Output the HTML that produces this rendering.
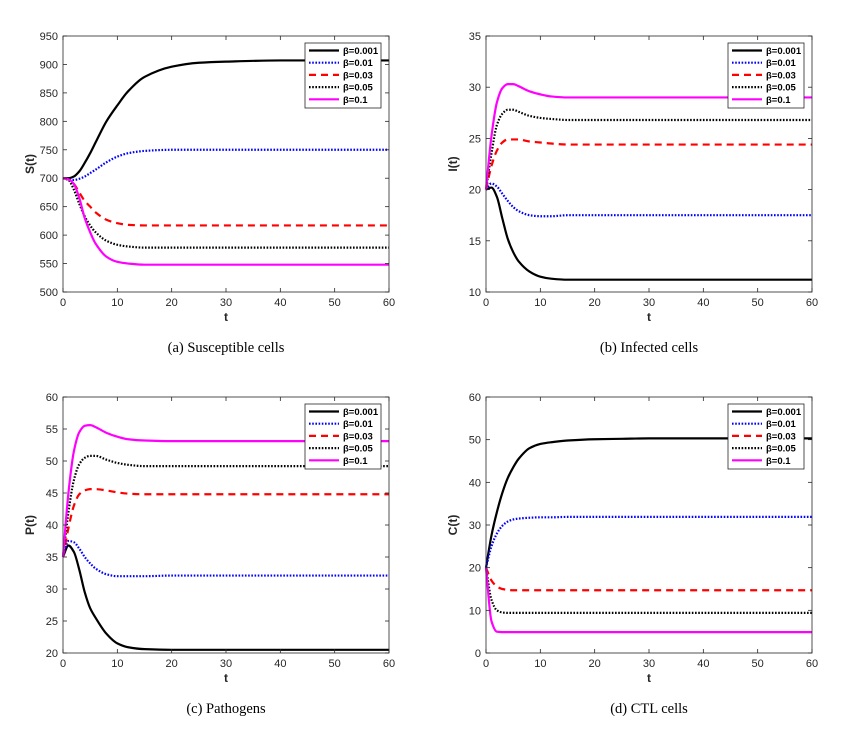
<!DOCTYPE html>
<html><head><meta charset="utf-8">
<style>
body{margin:0;background:#fff;}
svg{display:block;font-family:"Liberation Sans",sans-serif;}
.cap{font-family:"Liberation Serif",serif;font-size:14.5px;}
</style></head>
<body>
<svg id="chart" width="862" height="735" viewBox="0 0 862 735"></svg>
<script>
const T = [0,1,2,3,4,5,6,8,10,12,15,20,25,30,40,60];
const betaLabels = ["\u03B2=0.001","\u03B2=0.01","\u03B2=0.03","\u03B2=0.05","\u03B2=0.1"];
const sB001 = [700,700,703,712,727,744,763,800,828,853,878,896,903,905,907,907];
const sB01  = [700,698,697,699,703,709,715,728,738,744,748,750,750,750,750,750];
const sB03  = [700,698,690,675,660,650,640,627,621,618,617,617,617,617,617,617];
const sB05  = [700,697,680,655,633,617,605,590,583,580,578,578,578,578,578,578];
const sB1   = [700,698,690,665,630,605,585,562,553,550,548,548,548,548,548,548];
const iB001 = [20,20.2,19.3,17.2,15.2,13.9,13.0,12.0,11.5,11.3,11.2,11.2,11.2,11.2,11.2,11.2];
const iB01  = [20,20.6,20.3,19.6,18.9,18.3,17.9,17.5,17.4,17.4,17.5,17.5,17.5,17.5,17.5,17.5];
const iB03  = [20,22.3,23.8,24.6,24.9,24.9,24.9,24.7,24.6,24.5,24.4,24.4,24.4,24.4,24.4,24.4];
const iB05  = [20,23.5,26.3,27.4,27.8,27.8,27.6,27.2,27.0,26.9,26.8,26.8,26.8,26.8,26.8,26.8];
const iB1   = [20,25.2,28.5,29.9,30.3,30.3,30.1,29.6,29.3,29.1,29.0,29.0,29.0,29.0,29.0,29.0];
const pB001 = [35,36.8,35.8,33.0,29.5,27.0,25.5,23.0,21.5,20.9,20.6,20.5,20.5,20.5,20.5,20.5];
const pB01  = [35,37.5,37.3,36.3,35.0,34.0,33.2,32.3,32.0,32.0,32.0,32.1,32.1,32.1,32.1,32.1];
const pB03  = [35,39.5,43.0,44.8,45.4,45.6,45.6,45.4,45.1,44.9,44.8,44.8,44.8,44.8,44.8,44.8];
const pB05  = [35,42.0,47.0,49.5,50.5,50.8,50.8,50.2,49.7,49.4,49.2,49.2,49.2,49.2,49.2,49.2];
const pB1   = [35,45.0,51.5,54.5,55.5,55.6,55.3,54.4,53.8,53.4,53.2,53.1,53.1,53.1,53.1,53.1];
const cB001 = [20,27.5,33,37.5,41,43.5,45.5,48,49,49.4,49.8,50.1,50.2,50.3,50.3,50.3];
const cB01  = [20,25,28,29.8,30.8,31.3,31.5,31.7,31.8,31.8,31.9,31.9,31.9,31.9,31.9,31.9];
const cB03  = [20,17,15.6,15.0,14.8,14.7,14.7,14.7,14.7,14.7,14.7,14.7,14.7,14.7,14.7,14.7];
const cB05  = [20,12.5,10,9.5,9.4,9.4,9.4,9.4,9.4,9.4,9.4,9.4,9.4,9.4,9.4,9.4];
const cB1   = [20,7.5,5.0,4.9,4.9,4.9,4.9,4.9,4.9,4.9,4.9,4.9,4.9,4.9,4.9,4.9];
const xTicks = [0,10,20,30,40,50,60];
const ticksA = [500,550,600,650,700,750,800,850,900,950];
const ticksB = [10,15,20,25,30,35];
const ticksC = [20,25,30,35,40,45,50,55,60];
const ticksD = [0,10,20,30,40,50,60];

const styles = [
  {c:"#000",d:null,w:2.2},
  {c:"#0000ff",d:"1.6 1.6",w:2.2},
  {c:"#ff0000",d:"7 5",w:2.2},
  {c:"#000",d:"1.6 1.6",w:2.2},
  {c:"#ff00ff",d:null,w:2.2}
];
const NS="http://www.w3.org/2000/svg";
const svg=document.getElementById('chart');
function mk(tag,attrs,parent){const e=document.createElementNS(NS,tag);for(const k in attrs)e.setAttribute(k,attrs[k]);(parent||svg).appendChild(e);return e;}

function panel(key,x0,y0,x1,y1,ymin,ymax,yt,ylabel,caption,series){
  const g=mk('g',{});
  
  
  const sx=v=>x0+(v-0)/60*(x1-x0);
  const sy=v=>y1-(v-ymin)/(ymax-ymin)*(y1-y0);
  series.forEach((arr,si)=>{
    const n=T.length;
    // slopes in data space (dy/dt), non-uniform aware
    const m=T.map((t,i)=>{
      if(i===0) return (arr[1]-arr[0])/(T[1]-T[0]);
      if(i===n-1) return (arr[n-1]-arr[n-2])/(T[n-1]-T[n-2]);
      const a=(arr[i]-arr[i-1])/(T[i]-T[i-1]), b=(arr[i+1]-arr[i])/(T[i+1]-T[i]);
      if(a*b<=0) return 0;
      return 2/(1/a+1/b);
    });
    let d="M"+sx(T[0])+","+sy(arr[0]);
    for(let i=0;i<n-1;i++){
      const h=T[i+1]-T[i];
      const c1t=T[i]+h/3, c1v=arr[i]+m[i]*h/3;
      const c2t=T[i+1]-h/3, c2v=arr[i+1]-m[i+1]*h/3;
      d+=" C"+sx(c1t)+","+sy(c1v)+" "+sx(c2t)+","+sy(c2v)+" "+sx(T[i+1])+","+sy(arr[i+1]);
    }
    const st=styles[si];
    const p=mk('path',{d:d,fill:"none",stroke:st.c,"stroke-width":st.w},g);
    if(st.d)p.setAttribute('stroke-dasharray',st.d);
    
    
  });
  const box=mk('rect',{x:x0,y:y0,width:x1-x0,height:y1-y0,fill:"none",stroke:"#262626","stroke-width":0.8},g);
  
  
  xTicks.forEach(v=>{
    const X=sx(v);
    mk('line',{x1:X,y1:y1,x2:X,y2:y1-4,stroke:"#262626","stroke-width":0.8},g);
    mk('line',{x1:X,y1:y0,x2:X,y2:y0+4,stroke:"#262626","stroke-width":0.8},g);
    const t=mk('text',{x:X,y:y1+14,"text-anchor":"middle","font-size":11,fill:"#262626"},g);
    t.textContent=v;
    
    
  });
  yt.forEach(v=>{
    const Y=sy(v);
    mk('line',{x1:x0,y1:Y,x2:x0+4,y2:Y,stroke:"#262626","stroke-width":0.8},g);
    mk('line',{x1:x1,y1:Y,x2:x1-4,y2:Y,stroke:"#262626","stroke-width":0.8},g);
    const t=mk('text',{x:x0-5,y:Y+4,"text-anchor":"end","font-size":11,fill:"#262626"},g);
    t.textContent=v;
    
    
  });
  const xl=mk('text',{x:(x0+x1)/2,y:y1+29,"text-anchor":"middle","font-size":12,"font-weight":"bold",fill:"#262626"},g);
  xl.textContent="t";
  
  
  const yl=mk('text',{x:0,y:0,"text-anchor":"middle","font-size":12,"font-weight":"bold",fill:"#262626",transform:`translate(${x0-29},${(y0+y1)/2}) rotate(-90)`},g);
  yl.textContent=ylabel;
  
  
  const lx=x1-84, ly=y0+7, lw=76, lh=65;
  const lg=mk('g',{},g);
  
  
  mk('rect',{x:lx,y:ly,width:lw,height:lh,fill:"#fff",stroke:"#262626","stroke-width":0.8},lg);
  betaLabels.forEach((lab,i)=>{
    const Y=ly+7.5+i*12.2;
    const st=styles[i];
    const ln=mk('line',{x1:lx+4,y1:Y,x2:lx+34,y2:Y,stroke:st.c,"stroke-width":st.w},lg);
    if(st.d)ln.setAttribute('stroke-dasharray',st.d);
    const t=mk('text',{x:lx+38,y:Y+3.5,"font-size":9.5,"font-weight":"bold",fill:"#000"},lg);
    t.textContent=lab;
    
    
  });
  const cp=mk('text',{x:(x0+x1)/2,y:y1+60,"text-anchor":"middle",class:"cap",fill:"#000"},g);
  cp.textContent=caption;
  
  
}
panel('a',63,36,389,292,500,950,ticksA,"S(t)","(a)  Susceptible cells",[sB001,sB01,sB03,sB05,sB1]);
panel('b',486,36,812,292,10,35,ticksB,"I(t)","(b)  Infected cells",[iB001,iB01,iB03,iB05,iB1]);
panel('c',63,397,389,653,20,60,ticksC,"P(t)","(c)  Pathogens",[pB001,pB01,pB03,pB05,pB1]);
panel('d',486,397,812,653,0,60,ticksD,"C(t)","(d)  CTL cells",[cB001,cB01,cB03,cB05,cB1]);
</script>
</body></html>
